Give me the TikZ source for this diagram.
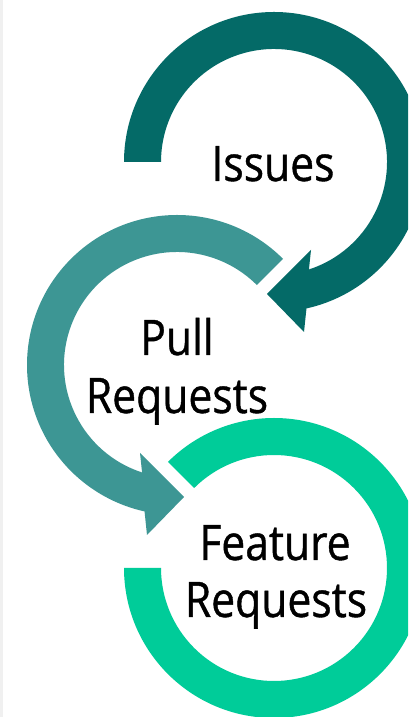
\documentclass[tikz,border=0pt]{standalone}
\usepackage{fontspec}
\setmainfont{Open Sans}[FakeStretch=0.87,FakeBold=0.8]
\usetikzlibrary{calc}
\definecolor{cA}{HTML}{046A67}
\definecolor{cB}{HTML}{3D9694}
\definecolor{cC}{HTML}{00CC99}
\begin{document}
\begin{tikzpicture}[x=1pt,y=1pt,
  lbl/.style={font=\fontsize{49}{58}\selectfont, anchor=base, inner sep=0pt, text=black}]
\clip (0,0) rectangle (408,717);
\fill[white] (0,0) rectangle (408,717);
\fill[black!6] (0,0) rectangle (3,717);
\coordinate (C1) at (274,555);
\coordinate (C2) at (177,352);
\coordinate (C3) at (274,149);
% top arrow (Issues)
\fill[cA] ($(C1)+(180:150)$) arc[start angle=180,end angle=-77.5,radius=150]
  -- ($(C1)+(30,-170)$) -- ($(C1)+(-7,-132)$) -- ($(C1)+(37,-88)$)
  -- ($(C1)+(-72:113)$) arc[start angle=-72,end angle=180,radius=113] -- cycle;
% middle arrow (Pull Requests)
\fill[cB] ($(C2)+(45:150)$) arc[start angle=45,end angle=257.5,radius=150]
  -- ($(C2)+(-30,-170)$) -- ($(C2)+(7,-132)$) -- ($(C2)+(-37,-88)$)
  -- ($(C2)+(252:113)$) arc[start angle=252,end angle=45,radius=113] -- cycle;
% bottom ring (Feature Requests)
\fill[cC] ($(C3)+(180:150)$) arc[start angle=180,end angle=495,radius=150]
  -- ($(C3)+(135:113)$) arc[start angle=135,end angle=-180,radius=113] -- cycle;
% labels
\node[lbl] (issues) at (273,536) {Issues};
\node[lbl] (pull) at (177,362) {Pull};
\node[lbl] (pullreq) at (177,304) {Requests};
\node[lbl] (feature) at (275,157) {Feature};
\node[lbl] (featreq) at (276,100) {Requests};
\end{tikzpicture}
\end{document}
